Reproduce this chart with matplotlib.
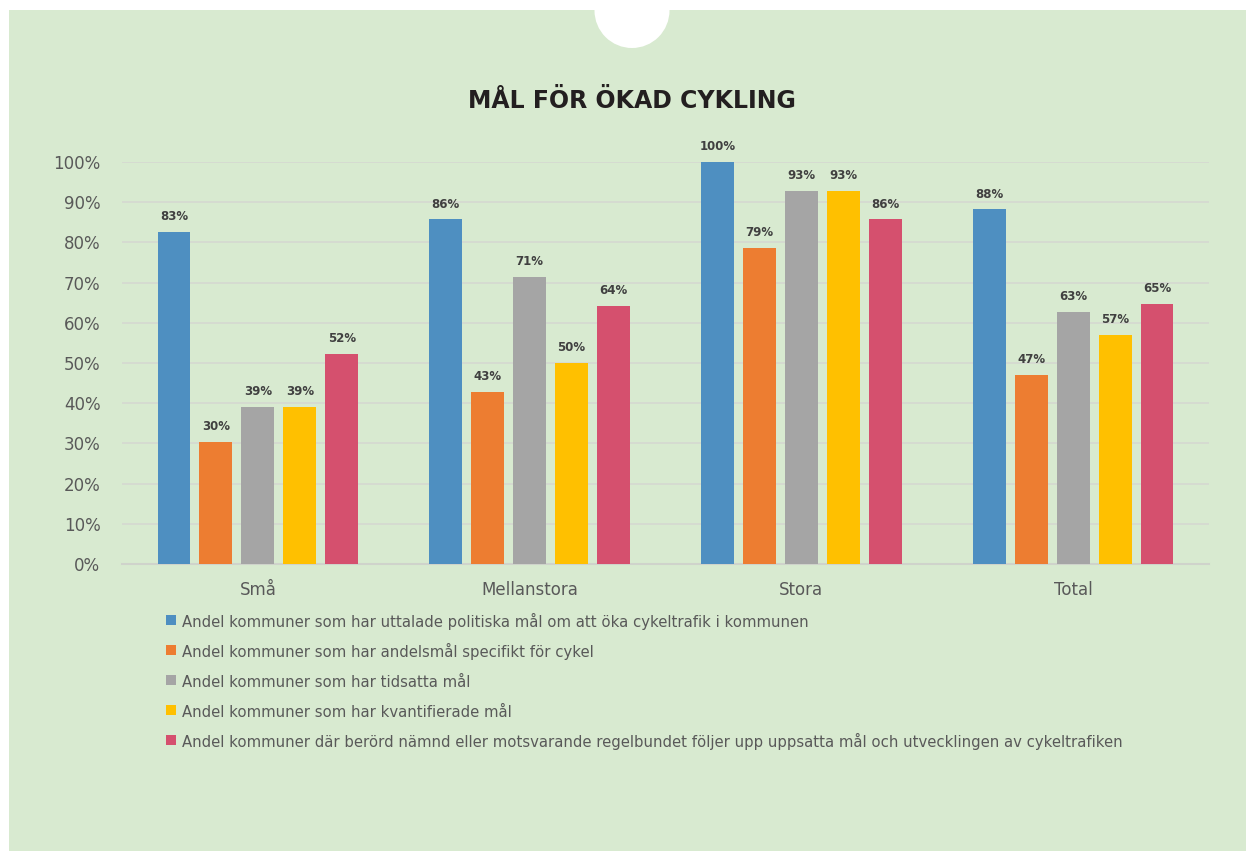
import numpy as np
import matplotlib.pyplot as plt
from matplotlib.patches import Rectangle, Ellipse
from matplotlib.lines import Line2D

# Data: share of municipalities (%)
categories = ["Små", "Mellanstora", "Stora", "Total"]
series_labels = [
    "Andel kommuner som har uttalade politiska mål om att öka cykeltrafik i kommunen",
    "Andel kommuner som har andelsmål specifikt för cykel",
    "Andel kommuner som har tidsatta mål",
    "Andel kommuner som har kvantifierade mål",
    "Andel kommuner där berörd nämnd eller motsvarande regelbundet följer upp uppsatta mål och utvecklingen av cykeltrafiken",
]
politiska = [82.6, 85.7, 100.0, 88.2]
andelsmal = [30.4, 42.9, 78.6, 47.1]
tidsatta = [39.1, 71.4, 92.9, 62.7]
kvantifierade = [39.1, 50.0, 92.9, 56.9]
uppfoljning = [52.2, 64.3, 85.7, 64.7]
yticks = [0, 10, 20, 30, 40, 50, 60, 70, 80, 90, 100]

series = [politiska, andelsmal, tidsatta, kvantifierade, uppfoljning]
colors = ["#4E8FC1", "#ED7D31", "#A5A5A5", "#FFC000", "#D5506E"]

W, H = 1246, 851
fig = plt.figure(figsize=(W / 100, H / 100), dpi=100, facecolor="white")

# green panel + white notch at the top
fig.patches.append(Rectangle((9 / W, 0), 1 - 9 / W, (H - 10) / H,
                             transform=fig.transFigure, facecolor="#D8EAD0",
                             edgecolor="none", zorder=-2))
fig.patches.append(Ellipse((632 / W, (H - 10.5) / H), 75 / W, 75 / H,
                           transform=fig.transFigure, facecolor="white",
                           edgecolor="none", zorder=-1))

fig.text(632 / W, (H - 101) / H, "MÅL FÖR ÖKAD CYKLING", ha="center", va="center",
         fontsize=17, fontweight="bold", color="#231F20")

ax = fig.add_axes([122 / W, (H - 564) / H, (1209 - 122) / W, (564 - 162) / H])
ax.set_facecolor("none")
ax.set_zorder(2)

x = np.arange(len(categories))
pitch = 0.1544
width = 0.121
for i, (vals, col, lab) in enumerate(zip(series, colors, series_labels)):
    pos = x + (i - 2) * pitch
    bars = ax.bar(pos, vals, width, color=col, label=lab, zorder=3)
    for b, v in zip(bars, vals):
        ax.text(b.get_x() + b.get_width() / 2, v + 3.8, f"{v:.0f}%",
                ha="center", va="center", fontsize=8.5, fontweight="bold",
                color="#404040", clip_on=False)

ax.set_xlim(-0.5, len(categories) - 0.5)
ax.set_ylim(0, 100)
ax.set_yticks(yticks)
ax.set_yticklabels([f"{t}%" for t in yticks])
ax.set_xticks(x)
ax.set_xticklabels(categories)
ax.tick_params(axis="both", length=0, labelsize=12, labelcolor="#595959")
ax.tick_params(axis="y", pad=15.5)
ax.tick_params(axis="x", pad=12)
ax.grid(axis="y", color="#D5D8D0", linewidth=1.2, zorder=0)
for s in ["top", "right", "left"]:
    ax.spines[s].set_visible(False)
ax.spines["bottom"].set_color("#CFD3CB")
ax.spines["bottom"].set_linewidth(1.5)

# square legend keys in a tall handle box so every row has the same height
handles = [Line2D([], [], marker="s", linestyle="none", markersize=7.5,
                  markeredgewidth=0, color=c) for c in colors]
leg = ax.legend(handles, series_labels, loc="upper left",
                bbox_to_anchor=(166 / W, (H - 613) / H),
                bbox_transform=fig.transFigure, frameon=False, fontsize=10.7,
                handlelength=0.7, handleheight=1.5, handletextpad=0.4,
                labelspacing=0.8, borderpad=0, borderaxespad=0)
for t in leg.get_texts():
    t.set_color("#595959")

fig.savefig("out.png", dpi=100, facecolor="white")
